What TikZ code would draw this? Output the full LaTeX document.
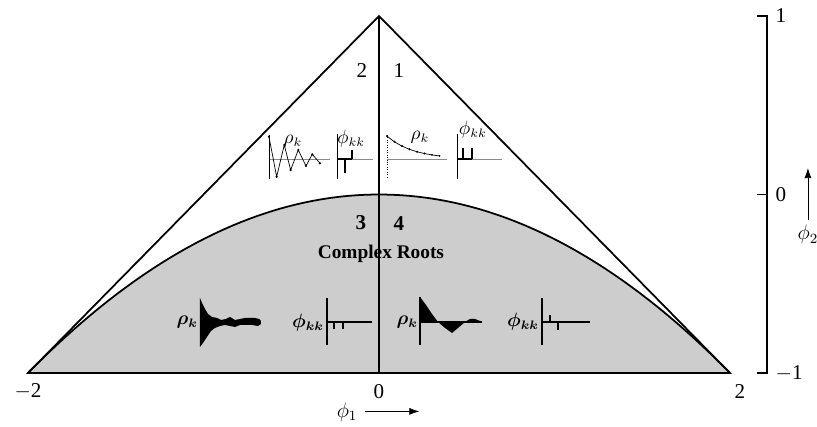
\documentclass[tikz,border=0pt]{standalone}
\usepackage{fontspec}
\setmainfont{Liberation Serif}
\usetikzlibrary{arrows.meta}
\definecolor{regionfill}{HTML}{CDCDCD}
\definecolor{axisgray}{HTML}{8A8A8A}

\begin{document}
\begin{tikzpicture}[x=3.51cm,y=3.57cm,
  edge/.style={line width=1pt},
  tick/.style={font=\fontsize{12}{14}\selectfont},
  regnum/.style={font=\fontsize{12}{14}\selectfont},
  mini/.style={font=\fontsize{10.5}{12}\selectfont,inner sep=0.5pt},
  minibold/.style={font=\fontsize{10.5}{12}\selectfont\boldmath,inner sep=0.5pt}]
  \useasboundingbox (-2.1595,-1.2969) rectangle (2.4957,1.0896);
  % admissible region: triangle and complex roots below the parabola
  \fill[regionfill] (-2,-1) -- plot[domain=-2:2,samples=80] (\x,{-\x*\x/4}) -- cycle;
  \draw[edge] (-2,-1) -- (0,1) -- (2,-1) -- cycle;
  \draw[edge] plot[domain=-2:2,samples=80] (\x,{-\x*\x/4});
  \draw[line width=1.2pt] (0,1) -- (0,-1);

  \node[regnum] (r2) at (-0.097,0.697) {2};
  \node[regnum] (r1) at (0.114,0.697) {1};
  \node[regnum,font=\fontsize{12}{14}\selectfont\bfseries] (r3) at (-0.103,-0.160) {3};
  \node[regnum,font=\fontsize{12}{14}\selectfont\bfseries] (r4) at (0.114,-0.160) {4};
  \node[font=\fontsize{11}{13}\selectfont\bfseries] (cplx) at (0.011,-0.333) {Complex Roots};

  % region 2: rho_k
  \begin{scope}[shift={(-0.627,0.199)},x=0.02cm,y=0.02cm]
    \draw[axisgray] (0,0) -- (61,0);
    \draw[thin] (0,24) -- (0,-20);
    \draw[thin] (0,22.3) -- (7.7,-17.7) -- (15.3,14) -- (21.7,-11) -- (29.3,9)
      -- (37,-7) -- (43.3,4.7) -- (51,-4.3);
    \foreach \p in {(0,22.3),(7.7,-17.7),(15.3,14),(21.7,-11),(29.3,9),(37,-7),(43.3,4.7),(51,-4.3)}
      \fill \p circle (0.7pt);
    \node[mini] (rho2) at (24,18) {$\rho_k$};
  \end{scope}
  % region 2: phi_kk
  \begin{scope}[shift={(-0.239,0.199)},x=0.02cm,y=0.02cm]
    \draw[axisgray] (0,0) -- (36,0);
    \draw[thin] (0,25) -- (0,-20);
    \draw[line width=1pt] (0,0) -- (15,0);
    \draw[line width=1pt] (8,0) -- (8,-14);
    \draw[line width=1pt] (15,0) -- (15,9);
    \node[mini] (phi2) at (14,20) {$\phi_{kk}$};
  \end{scope}
  % region 1: rho_k
  \begin{scope}[shift={(0.0456,0.199)},x=0.02cm,y=0.02cm]
    \draw[axisgray] (0,0) -- (60,0);
    \draw[thin,densely dotted] (0,24) -- (0,-20);
    \draw[thin] plot[domain=0:53,samples=30] (\x,{23*exp(-0.0384*\x)});
    \foreach \i in {0,...,7}
      \fill ({\i*7.5},{23*exp(-0.0384*\i*7.5)}) circle (0.6pt);
    \node[mini] (rho1) at (33,22) {$\rho_k$};
  \end{scope}
  % region 1: phi_kk
  \begin{scope}[shift={(0.444,0.199)},x=0.02cm,y=0.02cm]
    \draw[axisgray] (0,0) -- (45,0);
    \draw[thin] (0,25) -- (0,-20);
    \draw[line width=1pt] (0,0) -- (15,0);
    \draw[line width=1pt] (6,0) -- (6,11);
    \draw[line width=1pt] (15,0) -- (15,11);
    \node[mini] (phi1) at (16,29) {$\phi_{kk}$};
  \end{scope}
  % region 3: rho_k
  \begin{scope}[shift={(-1.020,-0.714)},x=0.02cm,y=0.02cm]
    \fill (0,24) -- (2,19) -- (5,13) -- (8,8) -- (12,5) -- (17,4) -- (21,2) -- (26,3)
      -- (30,5) -- (35,2) -- (40,3) -- (45,4) -- (50,4) -- (55,4) -- (59,3) -- (61,1)
      -- (61,-2) -- (58,-4) -- (52,-3) -- (46,-3) -- (40,-3) -- (35,-5) -- (30,-4)
      -- (25,-3) -- (20,-4) -- (15,-6) -- (11,-9) -- (7,-15) -- (3,-21) -- (0,-25) -- cycle;
    \node[minibold,anchor=east] (rho3) at (-1,0) {$\rho_k$};
  \end{scope}
  % region 3: phi_kk
  \begin{scope}[shift={(-0.296,-0.714)},x=0.02cm,y=0.02cm]
    \draw[line width=0.8pt] (0,24) -- (0,-23);
    \draw[line width=0.8pt] (0,0) -- (45,0);
    \draw[line width=0.8pt] (7,0) -- (7,-7);
    \draw[line width=0.8pt] (16,0) -- (16,-7);
    \node[minibold,anchor=east] (phi3) at (-2,-1) {$\phi_{kk}$};
  \end{scope}
  % region 4: rho_k
  \begin{scope}[shift={(0.2336,-0.714)},x=0.02cm,y=0.02cm]
    \draw[line width=0.8pt] (0,25) -- (0,-23);
    \fill (0,0) -- (0,25) -- (6,17) -- (12,8) -- (18,0) -- (25,-6) -- (32,-11) -- (38,-6)
      -- (45,0) -- (50,3) -- (55,3) -- (60,1) -- (62,0) -- cycle;
    \draw[line width=0.8pt] (0,0) -- (62,0);
    \node[minibold,anchor=east] (rho4) at (-1,0) {$\rho_k$};
  \end{scope}
  % region 4: phi_kk
  \begin{scope}[shift={(0.929,-0.714)},x=0.02cm,y=0.02cm]
    \draw[line width=0.8pt] (0,24) -- (0,-23);
    \draw[line width=0.8pt] (0,0) -- (48,0);
    \draw[line width=0.8pt] (8,0) -- (8,7);
    \draw[line width=0.8pt] (16,0) -- (16,-8);
    \node[minibold,anchor=east] (phi4) at (-2,0) {$\phi_{kk}$};
  \end{scope}

  % phi_2 scale on the right
  \draw[edge] (2.154,1) -- (2.211,1) -- (2.211,-1) -- (2.154,-1);
  \draw[edge] (2.154,0) -- (2.211,0);
  \node[tick,anchor=west] (yone) at (2.225,1) {1};
  \node[tick,anchor=west] (yzero) at (2.225,0) {0};
  \node[tick,anchor=west] (ymone) at (2.225,-1) {$-$1};
  \coordinate (ytail) at (2.444,-0.143);
  \coordinate (yhead) at (2.444,0.148);
  \draw[thin,-{Latex[length=2mm,width=1.4mm]}] (ytail) -- (yhead);
  \node[tick] (ylab) at (2.444,-0.225) {$\phi_2$};

  % phi_1 labels below
  \node[tick] (xmtwo) at (-2,-1.104) {$-$2};
  \node[tick] (xzero) at (0,-1.104) {0};
  \node[tick] (xtwo) at (2.057,-1.104) {2};
  \node[tick] (xlab) at (-0.182,-1.218) {$\phi_1$};
  \coordinate (xhead) at (0.23,-1.215);
  \draw[thin,-{Latex[length=2mm,width=1.4mm]}] (xlab.east) ++(0.01,0.003) coordinate (xtail) (xtail) -- (xhead);
\end{tikzpicture}
\end{document}
